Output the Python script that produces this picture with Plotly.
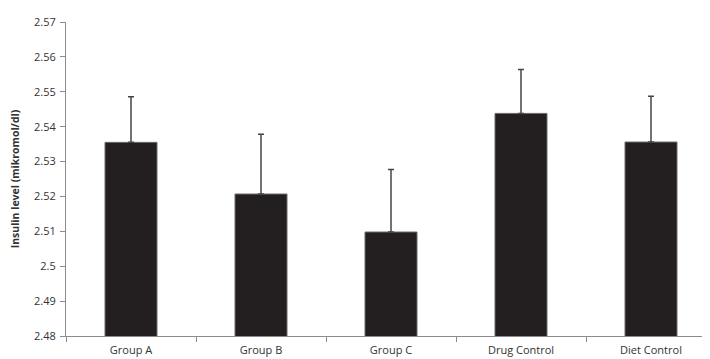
import plotly.graph_objects as go

categories = ["Group A", "Group B", "Group C", "Drug Control", "Diet Control"]
insulin_mean = [2.5355, 2.5207, 2.5098, 2.5438, 2.5356]
insulin_err = [0.0131, 0.0171, 0.0179, 0.0126, 0.0131]
y_ticks = [2.48, 2.49, 2.50, 2.51, 2.52, 2.53, 2.54, 2.55, 2.56, 2.57]
y_tick_text = ["2.48", "2.49", "2.5", "2.51", "2.52", "2.53", "2.54", "2.55", "2.56", "2.57"]

font_family = "Open Sans, Liberation Sans, sans-serif"

fig = go.Figure(
    go.Bar(
        x=categories,
        y=insulin_mean,
        base=0,
        width=0.4,
        marker=dict(color="#231f20", line=dict(color="#6a6a6a", width=1)),
        error_y=dict(type="data", array=insulin_err, symmetric=False,
                     arrayminus=[0] * len(insulin_err),
                     color="#454545", thickness=1.5, width=3),
    )
)

fig.update_layout(
    width=710, height=359,
    margin=dict(l=58, r=2, t=14, b=31),
    plot_bgcolor="white", paper_bgcolor="white",
    showlegend=False,
    font=dict(family=font_family, color="#333333", size=11),
)
fig.update_xaxes(
    showline=True, linecolor="#8c8c8c", linewidth=1,
    ticks="outside", tickson="boundaries", ticklen=5, tickcolor="#8c8c8c",
    showgrid=False, tickfont=dict(size=11, color="#333333"),
    ticklabelstandoff=4,
)
fig.update_yaxes(
    range=[2.48, 2.57], tickvals=y_ticks, ticktext=y_tick_text,
    showline=True, linecolor="#8c8c8c", linewidth=1,
    ticks="outside", ticklen=5, tickcolor="#8c8c8c",
    showgrid=False, zeroline=False,
    tickfont=dict(size=11, color="#333333"),
    ticklabelstandoff=2,
    title=dict(text="<b>Insulin level (mikromol/dl)</b>", font=dict(size=10.5, color="#333333"), standoff=12),
)

fig.write_html("out.html")
